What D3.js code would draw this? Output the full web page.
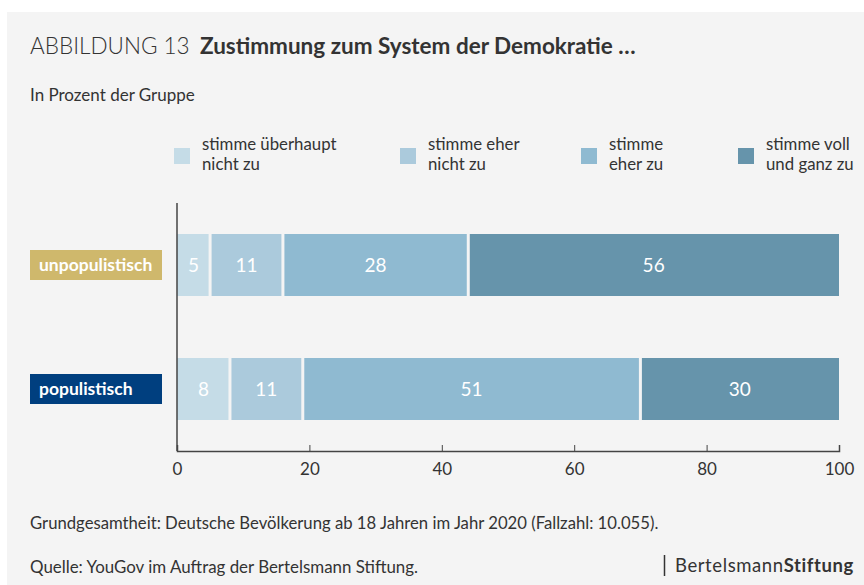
<!DOCTYPE html>
<html>
<head>
<meta charset="utf-8">
<script src="https://cdn.jsdelivr.net/npm/d3@7"></script>
<style>
  body { margin: 0; background: #fff; }
  text { font-family: Lato, "Open Sans", sans-serif; }
</style>
</head>
<body>
<script>
// data
var groups = ["unpopulistisch", "populistisch"];
var groupColors = ["#cfb86c", "#003f7f"];
var answers = ["stimme überhaupt nicht zu", "stimme eher nicht zu", "stimme eher zu", "stimme voll und ganz zu"];
var legendLines = [["stimme überhaupt", "nicht zu"], ["stimme eher", "nicht zu"], ["stimme", "eher zu"], ["stimme voll", "und ganz zu"]];
var answerColors = ["#c5dce7", "#abcadc", "#8fbad1", "#6694ab"];
var unpopValues = [5, 11, 28, 56];
var popValues = [8, 11, 51, 30];
var xTicks = [0, 20, 40, 60, 80, 100];

var svgWidth = 864;
var svgHeight = 585;

var svg = d3.select("body")
  .append("svg")
  .attr("width", svgWidth)
  .attr("height", svgHeight);

// grey panel
svg.append("rect")
  .attr("x", 7).attr("y", 12)
  .attr("width", svgWidth - 7).attr("height", svgHeight - 12)
  .attr("fill", "#f4f4f4");

// title
var title = svg.append("text")
  .attr("x", 30).attr("y", 54)
  .attr("font-size", 22.5)
  .attr("fill", "#333");
title.append("tspan").attr("font-weight", 300).text("ABBILDUNG 13");
title.append("tspan").attr("font-weight", 700).attr("x", 200).text("Zustimmung zum System der Demokratie …");

svg.append("text")
  .attr("x", 30).attr("y", 101)
  .attr("font-size", 17)
  .attr("fill", "#333")
  .text("In Prozent der Gruppe");

// scales
var x = d3.scaleLinear().domain([0, 100]).range([177, 839]);
var y = d3.scaleBand().domain(groups).range([203, 451]).paddingInner(0.5).paddingOuter(0.25);

// legend
var legendX = [174, 400, 581, 738];
var legend = svg.append("g").selectAll("g")
  .data(answers)
  .enter()
  .append("g")
  .attr("transform", (d, i) => `translate(${legendX[i]}, 0)`);

legend.append("rect")
  .attr("x", 0).attr("y", 148)
  .attr("width", 16).attr("height", 16)
  .attr("fill", (d, i) => answerColors[i]);

legend.each(function (d, i) {
  var t = d3.select(this).append("text")
    .attr("x", 28).attr("y", 150)
    .attr("font-size", 16.8)
    .attr("fill", "#333");
  legendLines[i].forEach(function (line, j) {
    t.append("tspan").attr("x", 28).attr("dy", j === 0 ? 0 : 20).text(line);
  });
});

// stacked bars
var rows = [unpopValues, popValues];
var stackData = groups.map(function (g, gi) {
  var start = 0;
  return rows[gi].map(function (v, ai) {
    var seg = { group: g, answer: ai, value: v, x0: start, x1: start + v };
    start += v;
    return seg;
  });
});
var segments = stackData.flat();

svg.append("g").selectAll("rect")
  .data(segments)
  .enter()
  .append("rect")
  .attr("x", d => x(d.x0) + (d.answer > 0 ? 1.5 : 0))
  .attr("y", d => y(d.group))
  .attr("width", d => x(d.x1) - x(d.x0) - (d.answer > 0 ? 1.5 : 0) - (d.answer < 3 ? 1.5 : 0))
  .attr("height", y.bandwidth())
  .attr("fill", d => answerColors[d.answer]);

svg.append("g").selectAll("text")
  .data(segments)
  .enter()
  .append("text")
  .attr("x", d => x((d.x0 + d.x1) / 2))
  .attr("y", d => y(d.group) + y.bandwidth() / 2 + 7)
  .attr("text-anchor", "middle")
  .attr("font-size", 19)
  .attr("fill", "#fff")
  .text(d => d.value);

// category labels
var labels = svg.append("g").selectAll("g")
  .data(groups)
  .enter()
  .append("g");

labels.append("rect")
  .attr("x", 30)
  .attr("y", d => y(d) + y.bandwidth() / 2 - 15)
  .attr("width", 132).attr("height", 30)
  .attr("fill", (d, i) => groupColors[i]);

labels.append("text")
  .attr("x", 39)
  .attr("y", d => y(d) + y.bandwidth() / 2 + 6)
  .attr("font-size", 17.5)
  .attr("font-weight", 700)
  .attr("fill", "#fff")
  .text(d => d);

// axes
var bottomAxis = d3.axisBottom(x).tickValues(xTicks).tickSize(-6).tickPadding(12);
var axisG = svg.append("g")
  .attr("transform", "translate(0, 451)")
  .call(bottomAxis);
axisG.select(".domain").attr("stroke", "#444").attr("stroke-width", 1.5);
axisG.selectAll(".tick line").attr("stroke", "#444");
axisG.selectAll(".tick text")
  .attr("font-family", "Lato, sans-serif")
  .attr("font-size", 17)
  .attr("fill", "#333");

svg.append("line")
  .attr("x1", 177).attr("x2", 177)
  .attr("y1", 203).attr("y2", 451)
  .attr("stroke", "#444").attr("stroke-width", 1.5);

// footer
svg.append("text")
  .attr("x", 30).attr("y", 529)
  .attr("font-size", 16.7)
  .attr("fill", "#333")
  .text("Grundgesamtheit: Deutsche Bevölkerung ab 18 Jahren im Jahr 2020 (Fallzahl: 10.055).");

svg.append("text")
  .attr("x", 30).attr("y", 573)
  .attr("font-size", 16.9)
  .attr("fill", "#333")
  .text("Quelle: YouGov im Auftrag der Bertelsmann Stiftung.");

// logo
svg.append("line")
  .attr("x1", 664.5).attr("x2", 664.5)
  .attr("y1", 555).attr("y2", 576)
  .attr("stroke", "#333").attr("stroke-width", 1.5);
var logo = svg.append("text")
  .attr("x", 675).attr("y", 572)
  .attr("font-size", 18.5)
  .attr("letter-spacing", 0.6)
  .attr("fill", "#333");
logo.append("tspan").text("Bertelsmann");
logo.append("tspan").attr("font-weight", 700).text("Stiftung");
</script>
</body>
</html>
